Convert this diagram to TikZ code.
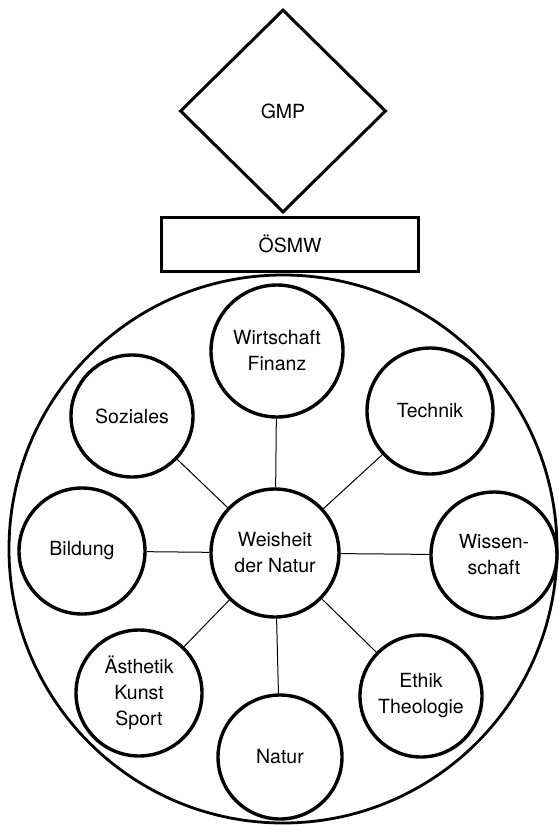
\documentclass[tikz,border=0pt]{standalone}
\usepackage{fontspec}
\setmainfont{TeX Gyre Heros}
\usetikzlibrary{shapes.geometric}

\begin{document}
\begin{tikzpicture}[x=1pt,y=-1pt,
		feld/.style={circle, draw, line width=3.4pt, minimum size=126pt, inner sep=0pt, align=center},
		speiche/.style={line width=1pt},
		every node/.style={font=\fontsize{19.5}{26}\selectfont}]
		\useasboundingbox (0,0) rectangle (559,825);

		\node[diamond, draw, line width=3pt, minimum width=206pt, minimum height=203pt, inner sep=0pt] (gmp) at (283,111) {GMP};
		\node[rectangle, draw, line width=3pt, minimum width=257pt, minimum height=54pt] (osmw) at (290,244) {ÖSMW};
		\node[circle, draw, line width=2.8pt, minimum size=548pt, inner sep=0pt] (rahmen) at (283,549) {};

		\node[feld, minimum size=128pt] (mitte) at (275,553) {Weisheit\\der Natur};
		\node[feld, minimum size=132pt] (wirtschaft) at (277,351) {Wirtschaft\\Finanz};
		\node[feld, minimum size=122pt] (soziales) at (132,416) {Soziales};
		\node[feld] (technik) at (430,411) {Technik};
		\node[feld] (bildung) at (82,551) {Bildung};
		\node[feld] (wissen) at (494,555) {Wissen-\\schaft};
		\node[feld] (aesthetik) at (139,693) {Ästhetik\\Kunst\\Sport};
		\node[feld, minimum size=124pt] (natur) at (280,757) {Natur};
		\node[feld, minimum size=122pt] (ethik) at (421,696) {Ethik\\Theologie};

		\draw[speiche] (mitte) -- (wirtschaft);
		\draw[speiche] (mitte) -- (soziales);
		\draw[speiche] (mitte) -- (technik);
		\draw[speiche] (mitte) -- (bildung);
		\draw[speiche] (mitte) -- (wissen);
		\draw[speiche] (mitte) -- (aesthetik);
		\draw[speiche] (mitte) -- (natur);
		\draw[speiche] (mitte) -- (ethik);
	\end{tikzpicture}
\end{document}
